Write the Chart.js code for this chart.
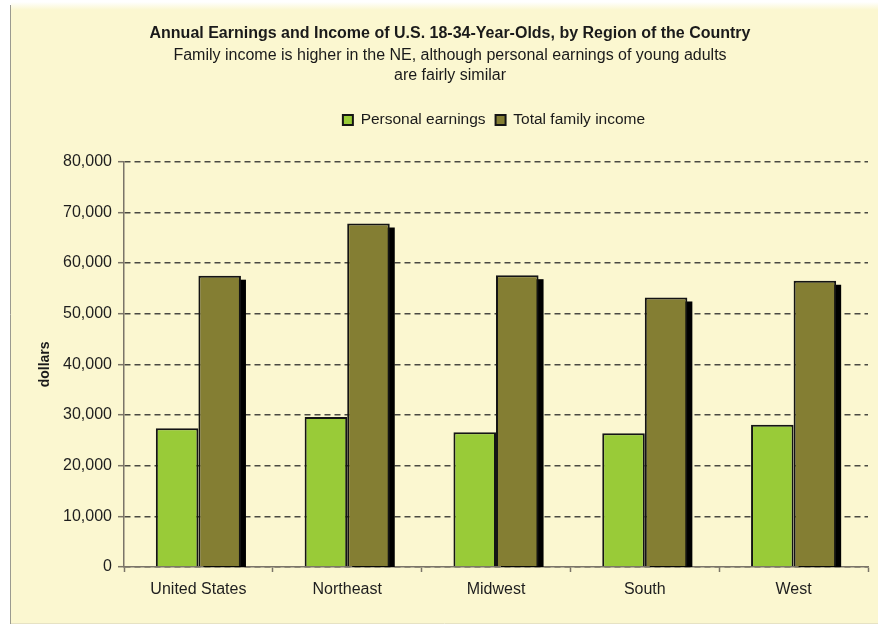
<!DOCTYPE html>
<html>
<head>
<meta charset="utf-8">
<script src="https://cdn.jsdelivr.net/npm/chart.js@4.4.1/dist/chart.umd.min.js"></script>
<style>
  html, body { margin: 0; padding: 0; background: #ffffff; }
  #wrap { width: 878px; height: 625px; }
</style>
</head>
<body>
<div id="wrap"><canvas id="chart" width="878" height="625"></canvas></div>
<script>
// Regions and annual dollar amounts for 18-34-year-olds
const regions = ['United States', 'Northeast', 'Midwest', 'South', 'West'];
const personalEarnings = [27400, 29600, 26600, 26400, 28100];
const totalFamilyIncome = [57500, 67800, 57600, 53200, 56500];
const yTicks = [0, 10000, 20000, 30000, 40000, 50000, 60000, 70000, 80000];

const titleText = 'Annual Earnings and Income of U.S. 18-34-Year-Olds, by Region of the Country';
const subtitleLines = [
  'Family income is higher in the NE, although personal earnings of young adults',
  'are fairly similar'
];

const CREAM = '#FBF7D0';
const FONT = "'Liberation Sans', Arial, Helvetica, sans-serif";

Chart.defaults.font.family = FONT;
Chart.defaults.color = '#1e1e1e';

// Page panel: cream sheet with a thin grey rule on its left edge
const panelBackground = {
  id: 'panelBackground',
  beforeDraw(chart) {
    const ctx = chart.ctx;
    ctx.save();
    ctx.fillStyle = '#ffffff';
    ctx.fillRect(0, 0, chart.width, chart.height);
    const g = ctx.createLinearGradient(0, 2, 0, 10);
    g.addColorStop(0, '#ffffff');
    g.addColorStop(1, CREAM);
    ctx.fillStyle = g;
    ctx.fillRect(11, 2, chart.width - 11, 8);
    ctx.fillStyle = CREAM;
    ctx.fillRect(11, 10, chart.width - 11, 613);
    ctx.strokeStyle = '#9a9a90';
    ctx.lineWidth = 1;
    ctx.beginPath();
    ctx.moveTo(10.5, 5);
    ctx.lineTo(10.5, 624);
    ctx.stroke();
    ctx.strokeStyle = '#e6e2c4';
    ctx.beginPath();
    ctx.moveTo(11, 623.5);
    ctx.lineTo(chart.width, 623.5);
    ctx.stroke();
    ctx.restore();
  }
};

// Hard black drop shadow behind the family-income bars,
// painted from each bar element's own geometry before the bars themselves
const barShadow = {
  id: 'barShadow',
  beforeDatasetDraw(chart, args) {
    if (args.index !== 1) return;
    const ctx = chart.ctx;
    const area = chart.chartArea;
    const dx = 5, dy = 4;
    ctx.save();
    ctx.beginPath();
    ctx.rect(area.left, area.top, area.right - area.left, area.bottom - area.top);
    ctx.clip();
    ctx.fillStyle = '#000000';
    args.meta.data.forEach(bar => {
      const { x, y, base, width } = bar.getProps(['x', 'y', 'base', 'width'], true);
      ctx.fillRect(x - width / 2 + dx, y + dy, width, base - y);
    });
    ctx.restore();
  }
};

// Legend sits centred over the plot area, with extra room below it
const legendPlacement = {
  id: 'legendPlacement',
  beforeInit(chart) {
    const legend = chart.legend;
    if (!legend) return;
    const origFit = legend.fit;
    legend.fit = function () {
      origFit.call(this);
      this.height += 24;
    };
  },
  afterLayout(chart) {
    const legend = chart.legend;
    if (!legend) return;
    const shift = 44;
    legend.left += shift;
    legend.right += shift;
  }
};

new Chart(document.getElementById('chart'), {
  type: 'bar',
  data: {
    labels: regions,
    datasets: [
      {
        label: 'Personal earnings',
        data: personalEarnings,
        backgroundColor: '#99CB38',
        borderColor: '#141414',
        borderWidth: 2,
        clip: 0
      },
      {
        label: 'Total family income',
        data: totalFamilyIncome,
        backgroundColor: '#847E33',
        borderColor: '#141414',
        borderWidth: 2,
        clip: 0
      }
    ]
  },
  options: {
    responsive: false,
    animation: false,
    devicePixelRatio: 1,
    layout: { padding: { left: 32, right: 10, top: 15, bottom: 0 } },
    datasets: {
      bar: { categoryPercentage: 0.572, barPercentage: 1.0 }
    },
    plugins: {
      tooltip: { enabled: false },
      title: {
        display: true,
        text: titleText,
        color: '#1a1a1a',
        font: { family: FONT, size: 16, weight: 'bold', lineHeight: 1.2 },
        padding: { top: 9, bottom: 2 }
      },
      subtitle: {
        display: true,
        text: subtitleLines,
        color: '#1a1a1a',
        font: { family: FONT, size: 16, weight: 'normal', lineHeight: 1.25 },
        padding: { top: 0, bottom: 17 }
      },
      legend: {
        display: true,
        position: 'top',
        labels: {
          color: '#1a1a1a',
          font: { family: FONT, size: 15.5 },
          boxWidth: 10,
          boxHeight: 10,
          padding: 10,
          useBorderRadius: false
        }
      }
    },
    scales: {
      x: {
        offset: true,
        grid: {
          offset: true,
          drawOnChartArea: false,
          drawTicks: true,
          tickLength: 5,
          tickColor: '#7a7468',
          tickWidth: 1.5
        },
        border: { display: true, color: '#7a7468', width: 1.5 },
        ticks: {
          color: '#1e1e1e',
          font: { family: FONT, size: 16 },
          padding: 8,
          maxRotation: 0
        },
        afterFit(scale) { scale.height = 58; }
      },
      y: {
        min: 0,
        max: 80000,
        afterBuildTicks(scale) {
          scale.ticks = yTicks.map(v => ({ value: v }));
        },
        grid: {
          color: '#4a4a42',
          lineWidth: 1.4,
          drawTicks: true,
          tickLength: 6,
          tickColor: '#7a7468',
          tickWidth: 1.5,
          tickBorderDash: []
        },
        border: { display: true, color: '#7a7468', width: 1.5, dash: [6, 4] },
        ticks: {
          color: '#1e1e1e',
          font: { family: FONT, size: 16 },
          padding: 6,
          callback: v => Number(v).toLocaleString('en-US')
        },
        title: {
          display: true,
          text: 'dollars',
          color: '#1a1a1a',
          font: { family: FONT, size: 14, weight: 'bold', lineHeight: 1.2 },
          padding: { top: 5, bottom: 0 }
        },
        afterFit(scale) { scale.width = 92; }
      }
    }
  },
  plugins: [panelBackground, barShadow, legendPlacement]
});
</script>
</body>
</html>
